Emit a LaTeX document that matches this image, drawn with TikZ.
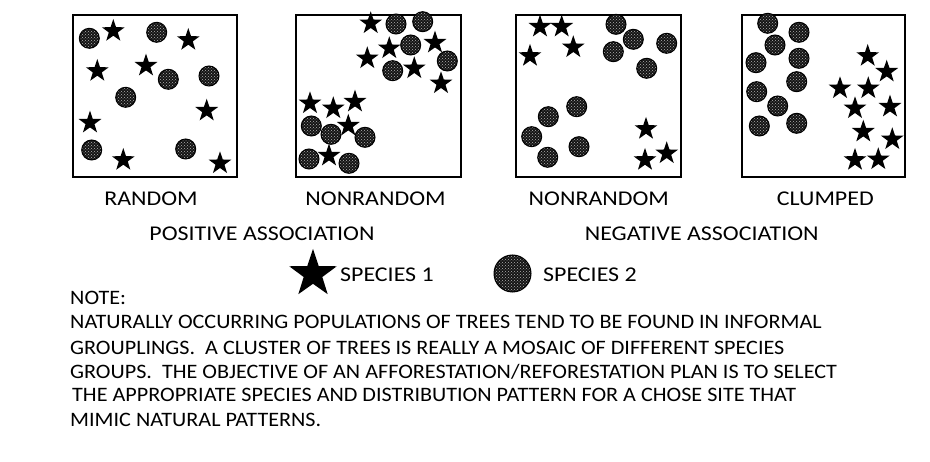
\documentclass[tikz,border=0pt]{standalone}
\usepackage{fontspec}
\setmainfont{Carlito}
\newfontfamily\notefont[FakeStretch=1.08]{Carlito}
\newfontfamily\labfont[FakeStretch=1.14]{Carlito}
\usetikzlibrary{shapes.geometric,patterns}
\begin{document}
\begin{tikzpicture}[x=1pt,y=-1pt,
  frame/.style={draw=black,line width=1.6pt},
  sponeone/.style={star,star points=5,star point ratio=2.55,fill=black,draw=none,minimum size=24pt,inner sep=0pt},
  sptwo/.style={circle,draw=black,line width=1pt,minimum size=20pt,inner sep=0pt,preaction={fill=black!92},pattern=crosshatch dots,pattern color=white!70!black},
  lbl/.style={font=\labfont\fontsize{21}{25}\selectfont,inner sep=0pt,anchor=base},
  legtxt/.style={font=\labfont\fontsize{21}{25}\selectfont,inner sep=0pt,anchor=base west},
  txt/.style={font=\notefont\fontsize{20.5}{24}\selectfont,inner sep=0pt,anchor=base west}]
\useasboundingbox (0,0) rectangle (930,462);
% boxes
\node[frame,minimum width=164pt,minimum height=162pt,inner sep=0pt] (boxA) at (155,96) {};
\node[frame,minimum width=165pt,minimum height=162pt,inner sep=0pt] (boxB) at (378.5,96) {};
\node[frame,minimum width=165pt,minimum height=162pt,inner sep=0pt] (boxC) at (598.5,96) {};
\node[frame,minimum width=163pt,minimum height=162pt,inner sep=0pt] (boxD) at (823.3,96) {};
% box A
\foreach \p [count=\i] in {(89.3,38.3),(156.7,32.3),(168.3,79.3),(209,76),(125.7,97.3),(91.7,150),(185.7,149)}
  \node[sptwo] (Ac\i) at \p {};
\foreach \p [count=\i] in {(113.3,31),(188.3,40),(97.3,71),(146,65.7),(206.7,110.7),(90,122.7),(123.3,160),(220,163.3)}
  \node[sponeone] (As\i) at \p {};
% box B
\foreach \p [count=\i] in {(396,24),(422.7,21.7),(410.7,45),(447.3,61),(392.7,70.7),(311.3,126),(331,134.3),(365,137.3),(309,159),(349,163.3)}
  \node[sptwo] (Bc\i) at \p {};
\foreach \p [count=\i] in {(370.7,23.3),(389.3,48.3),(435,42.7),(367.3,58.3),(414.3,68.3),(441,83.3),(310,103.3),(333.3,108.3),(355,101.7),(348.3,125.7),(329,155.7)}
  \node[sponeone] (Bs\i) at \p {};
% box C
\foreach \p [count=\i] in {(616,24.3),(633.3,39.3),(666.7,43.3),(613.3,51.7),(646.7,68.3),(576.7,106.7),(548.3,116.7),(531.7,136.7),(579,146.7),(547.7,157.3)}
  \node[sptwo] (Cc\i) at \p {};
\foreach \p [count=\i] in {(540,26.7),(561.7,26.7),(530,56),(573.3,47.3),(646,129),(645,160),(666.7,153.3)}
  \node[sponeone] (Cs\i) at \p {};
% box D
\foreach \p [count=\i] in {(767.7,23.3),(799,32.3),(775,45),(756,62.7),(799,58.3),(796.7,81.7),(756.7,91.7),(777.7,106),(759.3,126),(796.7,123.3)}
  \node[sptwo] (Dc\i) at \p {};
\foreach \p [count=\i] in {(867.7,56),(886.7,71.7),(840,88.3),(868.3,88.3),(855,108.3),(890,106.7),(863.3,131.7),(892.3,139.3),(855,160),(878.3,159.3)}
  \node[sponeone] (Ds\i) at \p {};
% labels
\node[lbl] (lA) at (151,206) {RANDOM};
\node[lbl] (lB) at (375.5,206) {NONRANDOM};
\node[lbl] (lC) at (598.8,206) {NONRANDOM};
\node[lbl] (lD) at (825.3,206) {CLUMPED};
\node[lbl] (pos) at (262,240.7) {POSITIVE ASSOCIATION};
\node[lbl] (neg) at (701.7,240.7) {NEGATIVE ASSOCIATION};
% legend
\node[sponeone,minimum size=50pt] (legS) at (313,274) {};
\node[legtxt] (legSt) at (340,282) {SPECIES 1};
\node[sptwo,minimum size=37pt] (legC) at (512.5,273.5) {};
\node[legtxt] (legCt) at (543,282) {SPECIES 2};
% note
\node[txt] (n0) at (70,305) {NOTE:};
\node[txt] (n1) at (70,329) {NATURALLY OCCURRING POPULATIONS OF TREES TEND TO BE FOUND IN INFORMAL};
\node[txt] (n2) at (70,354.5) {GROUPLINGS.\ \ A CLUSTER OF TREES IS REALLY A MOSAIC OF DIFFERENT SPECIES};
\node[txt] (n3) at (70,378.5) {GROUPS.\ \ THE OBJECTIVE OF AN AFFORESTATION/REFORESTATION PLAN IS TO SELECT};
\node[txt] (n4) at (72,402) {THE APPROPRIATE SPECIES AND DISTRIBUTION PATTERN FOR A CHOSE SITE THAT};
\node[txt] (n5) at (70,426.5) {MIMIC NATURAL PATTERNS.};
\end{tikzpicture}
\end{document}
